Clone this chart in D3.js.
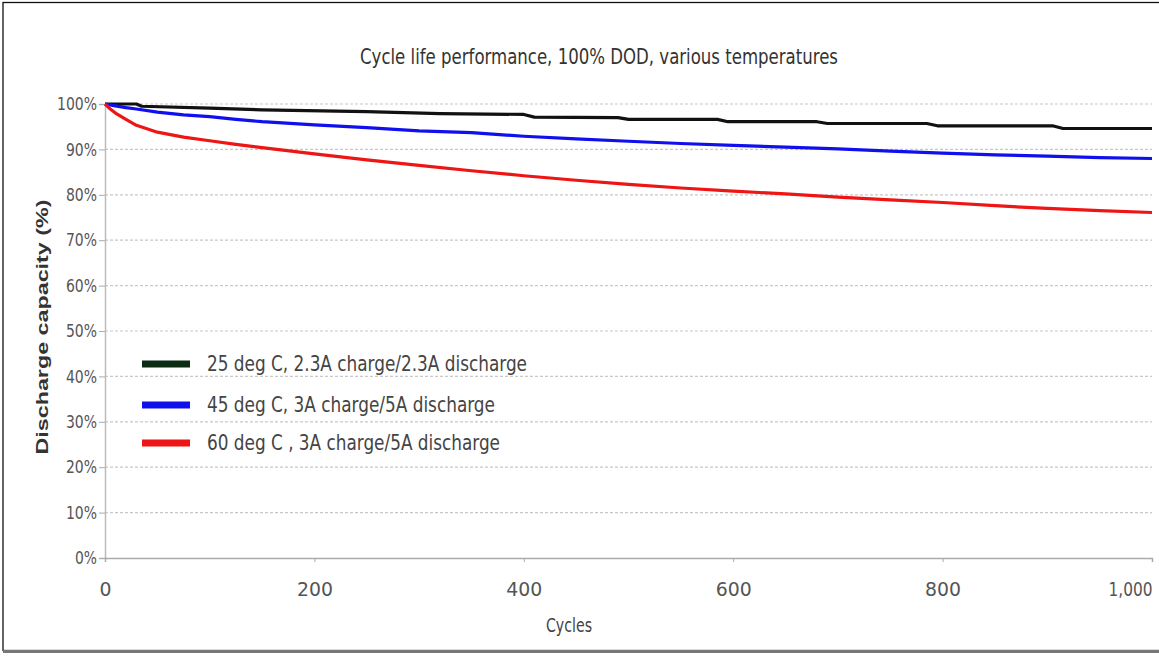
<!DOCTYPE html>
<html>
<head>
<meta charset="utf-8">
<script src="https://cdn.jsdelivr.net/npm/d3@7"></script>
<style>
  body { margin: 0; background: #fff; }
  svg { display: block; }
  .narrow { font-family: "Liberation Sans Narrow", "DejaVu Sans Condensed", "Roboto", sans-serif; font-stretch: condensed; }
</style>
</head>
<body>
<div id="chart"></div>
<script>
// ---- data ----
const chartTitle = "Cycle life performance, 100% DOD, various temperatures";
const xTitle = "Cycles";
const yTitle = "Discharge capacity (%)";

const xTicks = [0, 200, 400, 600, 800, 1000];
const yTicks = [0, 10, 20, 30, 40, 50, 60, 70, 80, 90, 100];

const seriesNames = [
  "25 deg C, 2.3A charge/2.3A discharge",
  "45 deg C, 3A charge/5A discharge",
  "60 deg C , 3A charge/5A discharge"
];
const seriesColors = ["#111111", "#1010ee", "#ee1515"];
const legendColors = ["#0d2a12", "#1010ee", "#ee1515"];
const legendWidths = [320, 288, 293];   // text widths as seen in the picture

// 25 deg C (black), stepwise
const cycles25 = [0, 30, 35, 100, 150, 250, 320, 400, 410, 490, 500, 585, 595, 680, 690, 785, 795, 905, 915, 1000];
const cap25    = [100, 100, 99.5, 99.1, 98.7, 98.3, 97.9, 97.7, 97.1, 97.0, 96.6, 96.6, 96.1, 96.1, 95.7, 95.7, 95.2, 95.2, 94.6, 94.6];

// 45 deg C (blue)
const cycles45 = [0, 10, 20, 30, 50, 75, 100, 125, 150, 200, 250, 300, 350, 400, 450, 500, 550, 600, 650, 700, 750, 800, 850, 900, 950, 1000];
const cap45    = [100, 99.6, 99.2, 98.9, 98.2, 97.6, 97.2, 96.6, 96.1, 95.4, 94.8, 94.1, 93.7, 92.9, 92.3, 91.8, 91.3, 90.9, 90.5, 90.1, 89.6, 89.2, 88.8, 88.5, 88.2, 88.0];

// 60 deg C (red)
const cycles60 = [0, 5, 10, 20, 30, 50, 75, 100, 125, 150, 200, 250, 300, 350, 400, 450, 500, 550, 600, 650, 700, 750, 800, 850, 900, 950, 1000];
const cap60    = [100, 98.9, 98.0, 96.6, 95.3, 93.8, 92.7, 91.9, 91.1, 90.4, 89.0, 87.7, 86.5, 85.3, 84.2, 83.2, 82.3, 81.5, 80.8, 80.2, 79.5, 78.9, 78.3, 77.6, 77.0, 76.5, 76.1];

const seriesCycles = [cycles25, cycles45, cycles60];
const seriesValues = [cap25, cap45, cap60];

// ---- layout ----
let width = 1159, height = 656;
let margin = { top: 104, left: 105, right: 7, bottom: 98 };

let svg = d3.select("#chart").append("svg")
    .attr("width", width)
    .attr("height", height);

// frame
svg.append("rect")
    .attr("x", 3).attr("y", 2.5)
    .attr("width", width + 10).attr("height", 648)
    .attr("fill", "#fff")
    .attr("stroke", "#111").attr("stroke-width", 1.3);
svg.append("line")
    .attr("x1", 3).attr("x2", width)
    .attr("y1", 651.5).attr("y2", 651.5)
    .attr("stroke", "#777").attr("stroke-width", 3);

let x = d3.scaleLinear().domain([0, 1000]).range([margin.left, width - margin.right]);
let y = d3.scaleLinear().domain([0, 100]).range([height - margin.bottom, margin.top]);

// gridlines
svg.append("g")
    .selectAll("line")
    .data(yTicks.filter(d => d > 0))
    .join("line")
    .attr("x1", x(0)).attr("x2", x(1000))
    .attr("y1", d => y(d)).attr("y2", d => y(d))
    .attr("stroke", "#c8c8c8")
    .attr("stroke-width", 1.2)
    .attr("stroke-dasharray", "3,2");

// y axis
let yAxis = d3.axisLeft(y)
    .tickValues(yTicks)
    .tickSize(6)
    .tickFormat(d => d + "%");
let yG = svg.append("g")
    .attr("class", "narrow")
    .attr("transform", "translate(" + margin.left + ",0)")
    .call(yAxis);
yG.select(".domain").attr("stroke", "#bbb").attr("stroke-width", 1.5);
yG.selectAll(".tick line").attr("stroke", "#aaa");
yG.selectAll(".tick text")
    .attr("x", -8)
    .attr("fill", "#555")
    .style("font-size", "18px")
    .attr("textLength", d => d === 100 ? 40 : (d === 0 ? 22 : 31))
    .attr("lengthAdjust", "spacingAndGlyphs");

// x axis
let xAxis = d3.axisBottom(x)
    .tickValues(xTicks)
    .tickSize(4)
    .tickFormat(d3.format(","));
let xG = svg.append("g")
    .attr("class", "narrow")
    .attr("transform", "translate(0," + y(0) + ")")
    .call(xAxis);
xG.select(".domain").attr("stroke", "#aaa").attr("stroke-width", 1.5);
xG.selectAll(".tick line").attr("stroke", "#aaa");
xG.selectAll(".tick text")
    .attr("y", 24)
    .attr("fill", "#555")
    .style("font-size", "20px")
    .attr("textLength", d => d === 0 ? 12 : (d === 1000 ? 44 : 36))
    .attr("lengthAdjust", "spacingAndGlyphs");
xG.selectAll(".tick:last-of-type text").attr("text-anchor", "end").attr("x", 0);

// lines
let line = d3.line()
    .x(d => x(d[0]))
    .y(d => y(d[1]));

svg.append("g")
    .selectAll("path")
    .data(seriesValues.map((vals, i) => vals.map((v, j) => [seriesCycles[i][j], v])))
    .join("path")
    .attr("d", d => line(d))
    .attr("fill", "none")
    .attr("stroke", (d, i) => seriesColors[i])
    .attr("stroke-width", 3.2)
    .attr("stroke-linejoin", "round");

// legend
let legendY = [364, 405, 443];
let legend = svg.append("g").attr("class", "narrow");
legend.selectAll("line")
    .data(seriesNames)
    .join("line")
    .attr("x1", 142).attr("x2", 190)
    .attr("y1", (d, i) => legendY[i]).attr("y2", (d, i) => legendY[i])
    .attr("stroke", (d, i) => legendColors[i])
    .attr("stroke-width", 7);
legend.selectAll("text")
    .data(seriesNames)
    .join("text")
    .attr("x", 207)
    .attr("y", (d, i) => legendY[i])
    .attr("dy", "0.35em")
    .attr("fill", "#444")
    .style("font-size", "21px")
    .attr("textLength", (d, i) => legendWidths[i])
    .attr("lengthAdjust", "spacingAndGlyphs")
    .text(d => d);

// titles
svg.append("text")
    .attr("class", "narrow")
    .attr("x", 599).attr("y", 64)
    .attr("text-anchor", "middle")
    .attr("fill", "#333")
    .style("font-size", "21px")
    .attr("textLength", 478)
    .attr("lengthAdjust", "spacingAndGlyphs")
    .text(chartTitle);

svg.append("text")
    .attr("class", "narrow")
    .attr("x", 569).attr("y", 632)
    .attr("text-anchor", "middle")
    .attr("fill", "#444")
    .style("font-size", "19px")
    .attr("textLength", 46)
    .attr("lengthAdjust", "spacingAndGlyphs")
    .text(xTitle);

svg.append("text")
    .attr("transform", "translate(48,327) rotate(-90)")
    .attr("text-anchor", "middle")
    .attr("fill", "#333")
    .style("font-family", "'Liberation Sans', Arial, sans-serif")
    .style("font-weight", "bold")
    .style("font-size", "16px")
    .attr("textLength", 255)
    .attr("lengthAdjust", "spacingAndGlyphs")
    .text(yTitle);
</script>
</body>
</html>
